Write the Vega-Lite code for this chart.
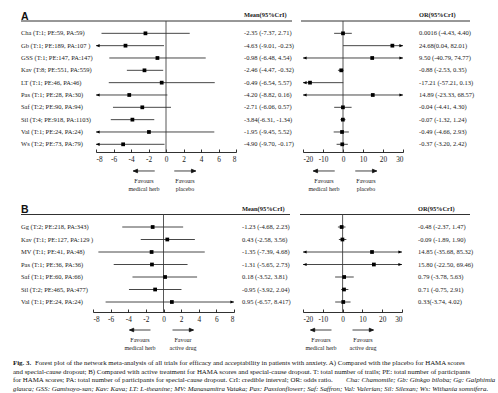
{
"$schema":"https://vega.github.io/schema/vega-lite/v6.json",
"background":"white",
"padding":{"left":0,"top":0,"right":0,"bottom":0},
"spacing":4,
"config":{"view":{"stroke":null},"text":{"font":"Liberation Serif","fontSize":6.5,"color":"#1a1a1a"},
"axis":{"labelFont":"Liberation Serif","labelFontSize":7.3,"labelColor":"#1a1a1a","domainColor":"#1a1a1a","tickColor":"#1a1a1a","domainWidth":0.9,"tickWidth":0.9,"grid":false,"labelExpr":"'' + datum.value"}},
"datasets":{
"hdrA":[{"col":"panel","t":"A"},{"col":"mean","t":"Mean(95%CrI)"},{"col":"or","t":"OR(95%CrI)"}],
"hdrB":[{"col":"panel","t":"B"},{"col":"mean","t":"Mean(95%CrI)"},{"col":"or","t":"OR(95%CrI)"}],
"annA":[{"p":"neg","t":"Favours|medical herb"},{"p":"pos","t":"Favours|placebo"}],
"annB1":[{"p":"neg","t":"Favours|medical herb"},{"p":"pos","t":"Favour|active drug"}],
"annB2":[{"p":"neg","t":"Favours|medical herb"},{"p":"pos","t":"Favours|active drug"}],
"rowsA":[
{"code":"Cha","label":"Cha (T:1; PE:59, PA:59)","mt":"-2.35 (-7.37, 2.71)","m":-2.35,"ml":-7.37,"mh":2.71,"ot":"0.0016 (-4.43, 4.40)","o":0.0016,"ol":-4.43,"oh":4.40},
{"code":"Gb","label":"Gb (T:1; PE:189, PA:107 )","mt":"-4.63 (-9.01, -0.23)","m":-4.63,"ml":-9.01,"mh":-0.23,"ot":"24.68(0.04, 82.01)","o":24.68,"ol":0.04,"oh":82.01},
{"code":"GSS","label":"GSS (T:1; PE:147, PA:147)","mt":"-0.98 (-6.48, 4.54)","m":-0.98,"ml":-6.48,"mh":4.54,"ot":"9.50 (-40.79, 74.77)","o":14.6,"ol":-40.79,"oh":74.77},
{"code":"Kav","label":"Kav (T:8; PE:551, PA:559)","mt":"-2.46 (-4.47, -0.32)","m":-2.46,"ml":-4.47,"mh":-0.32,"ot":"-0.88 (-2.53, 0.35)","o":-0.88,"ol":-2.53,"oh":0.35},
{"code":"LT","label":"LT (T:1; PE:46, PA:46)","mt":"-0.49 (-6.54, 5.57)","m":-0.49,"ml":-6.54,"mh":5.57,"ot":"-17.21 (-57.21, 0.13)","o":-16.5,"ol":-57.21,"oh":0.13},
{"code":"Pas","label":"Pas (T:1; PE:28, PA:30)","mt":"-4.20 (-8.82, 0.16)","m":-4.2,"ml":-8.82,"mh":0.16,"ot":"14.89 (-23.33, 68.57)","o":14.89,"ol":-23.33,"oh":68.57},
{"code":"Saf","label":"Saf (T:2; PE:90, PA:94)","mt":"-2.71 (-6.06, 0.57)","m":-2.71,"ml":-6.06,"mh":0.57,"ot":"-0.04 (-4.41, 4.30)","o":-0.04,"ol":-4.41,"oh":4.30},
{"code":"Sil","label":"Sil (T:4; PE:918, PA:1103)","mt":"-3.84(-6.31, -1.34)","m":-3.84,"ml":-6.31,"mh":-1.34,"ot":"-0.07 (-1.32, 1.24)","o":-0.07,"ol":-1.32,"oh":1.24},
{"code":"Val","label":"Val (T:1; PE:24, PA:24)","mt":"-1.95 (-9.45, 5.52)","m":-1.95,"ml":-9.45,"mh":5.52,"ot":"-0.49 (-4.66, 2.93)","o":-0.49,"ol":-4.66,"oh":2.93},
{"code":"Ws","label":"Ws (T:2; PE:73, PA:79)","mt":"-4.90 (-9.70, -0.17)","m":-4.9,"ml":-9.7,"mh":-0.17,"ot":"-0.37 (-3.20, 2.42)","o":-0.37,"ol":-3.2,"oh":2.42}],
"rowsB":[
{"code":"Gg","label":"Gg (T:2; PE:218, PA:343)","mt":"-1.23 (-4.68, 2.23)","m":-1.23,"ml":-4.68,"mh":2.23,"ot":"-0.48 (-2.37, 1.47)","o":-0.48,"ol":-2.37,"oh":1.47},
{"code":"Kav","label":"Kav (T:1; PE:127, PA:129 )","mt":"0.43 (-2.58, 3.56)","m":0.43,"ml":-2.58,"mh":3.56,"ot":"-0.09 (-1.89, 1.90)","o":-0.09,"ol":-1.89,"oh":1.9},
{"code":"MV","label":"MV (T:1; PE:41, PA:48)","mt":"-1.35 (-7.39, 4.68)","m":-1.35,"ml":-7.39,"mh":4.68,"ot":"14.85 (-35.68, 85.32)","o":14.85,"ol":-35.68,"oh":85.32},
{"code":"Pas","label":"Pas (T:1; PE:36, PA:36)","mt":"-1.31 (-5.65, 2.73)","m":-1.31,"ml":-5.65,"mh":2.73,"ot":"15.80 (-22.50, 69.46)","o":15.8,"ol":-22.5,"oh":69.46},
{"code":"Saf","label":"Saf (T:1; PE:60, PA:66)","mt":"0.18 (-3.52, 3.81)","m":0.18,"ml":-3.52,"mh":3.81,"ot":"0.79 (-3.78, 5.63)","o":0.79,"ol":-3.78,"oh":5.63},
{"code":"Sil","label":"Sil (T:2; PE:465, PA:477)","mt":"-0.95 (-3.92, 2.04)","m":-0.95,"ml":-3.92,"mh":2.04,"ot":"0.71 (-0.75, 2.91)","o":0.71,"ol":-0.75,"oh":2.91},
{"code":"Val","label":"Val (T:1; PE:24, PA:24)","mt":"0.95 (-6.57, 8.417)","m":0.95,"ml":-6.57,"mh":8.417,"ot":"0.33(-3.74, 4.02)","o":0.33,"ol":-3.74,"oh":4.02}],
"cap":[
{"g":"c1","s":"bold","ln":"1","t":"Fig. 3."},
{"g":"c2","s":"normal","ln":"1","t":"Forest plot of the network meta-analysis of all trials for efficacy and acceptability in patients with anxiety. A) Compared with the placebo for HAMA scores"},
{"g":"c1","s":"normal","ln":"2","t":"and special-cause dropout; B) Compared with active treatment for HAMA scores and special-cause dropout. T: total number of trails; PE: total number of participants"},
{"g":"c1","s":"normal","ln":"3","t":"for HAMA scores; PA: total number of participants for special-cause dropout. CrI: credible interval; OR: odds ratio."},
{"g":"c3","s":"italic","ln":"3","t":"Cha: Chamomile; Gb: Ginkgo biloba; Gg: Galphimia"},
{"g":"c1","s":"italic","ln":"4","t":"glauca; GSS: Gamisoyo-san; Kav: Kava; LT: L-theanine; MV: Manasamitra Vataka; Pas: Passionflower; Saf: Saffron; Val: Valerian; Sil: Silexan; Ws: Withania somnifera."}]
},
"vconcat":[
{
"width":498,"height":152,
"resolve":{"scale":{"x":"independent"},"axis":{"x":"independent"}},
"encoding":{"y":{"type":"nominal","scale":{"type":"point","domain":["hdr","Cha","Gb","GSS","Kav","LT","Pas","Saf","Sil","Val","Ws","gap","ann1","ann2"],"range":[21,181.3],"padding":0},"axis":null}},
"layer":[
{"data":{"name":"hdrA"},"transform":[{"filter":"datum.col == 'panel'"}],"mark":{"type":"rule","color":"#1a1a1a","strokeWidth":0.9},
"encoding":{"x":{"datum":0,"type":"quantitative","scale":{"domain":[0,1],"range":[21,292]},"axis":null},"x2":{"datum":1},"y":{"datum":"hdr"}}},
{"data":{"name":"hdrA"},"transform":[{"filter":"datum.col == 'panel'"}],"mark":{"type":"text","font":"Liberation Sans","fontWeight":"bold","fontSize":10.5,"align":"left","baseline":"alphabetic","dy":-1.5,"color":"#111"},
"encoding":{"x":{"datum":0,"type":"quantitative","scale":{"domain":[0,1],"range":[21,292]},"axis":null},"y":{"datum":"hdr"},"text":{"field":"t"}}},
{"data":{"name":"rowsA"},"mark":{"type":"text","align":"left","baseline":"middle"},
"encoding":{"x":{"datum":0,"type":"quantitative","scale":{"domain":[0,1],"range":[21,292]},"axis":null},"y":{"field":"code"},"text":{"field":"label"}}},
{"data":{"name":"hdrA"},"transform":[{"filter":"datum.col == 'mean'"}],"mark":{"type":"text","fontWeight":"bold","fontSize":6.4,"align":"left","baseline":"alphabetic","dy":-4},
"encoding":{"x":{"datum":0,"type":"quantitative","scale":{"domain":[0,1],"range":[244,292]},"axis":null},"y":{"datum":"hdr"},"text":{"field":"t"}}},
{"data":{"name":"rowsA"},"mark":{"type":"text","align":"left","baseline":"middle"},
"encoding":{"x":{"datum":0,"type":"quantitative","scale":{"domain":[0,1],"range":[244,292]},"axis":null},"y":{"field":"code"},"text":{"field":"mt"}}},
{"data":{"name":"hdrA"},"transform":[{"filter":"datum.col == 'panel'"}],"mark":{"type":"rule","color":"#1a1a1a","strokeWidth":0.9},
"encoding":{"x":{"datum":0,"type":"quantitative","scale":{"domain":[0,1],"range":[301,470]},"axis":null},"x2":{"datum":1},"y":{"datum":"hdr"}}},
{"data":{"name":"hdrA"},"transform":[{"filter":"datum.col == 'or'"}],"mark":{"type":"text","fontWeight":"bold","fontSize":6.4,"align":"left","baseline":"alphabetic","dy":-4},
"encoding":{"x":{"datum":0,"type":"quantitative","scale":{"domain":[0,1],"range":[419,470]},"axis":null},"y":{"datum":"hdr"},"text":{"field":"t"}}},
{"data":{"name":"rowsA"},"mark":{"type":"text","align":"left","baseline":"middle"},
"encoding":{"x":{"datum":0,"type":"quantitative","scale":{"domain":[0,1],"range":[419,470]},"axis":null},"y":{"field":"code"},"text":{"field":"ot"}}},

{"data":{"name":"hdrA"},"transform":[{"filter":"datum.col == 'panel'"}],"mark":{"type":"rule","color":"#444","strokeWidth":0.9},
"encoding":{"x":{"datum":0,"type":"quantitative","scale":{"domain":[-8,8],"range":[96,236],"clamp":true},"axis":null},"y":{"datum":"hdr"},"y2":{"value":"height"}}},
{"data":{"name":"rowsA"},"mark":{"type":"rule","color":"#333","strokeWidth":0.9},
"encoding":{"x":{"field":"ml","type":"quantitative","scale":{"domain":[-8,8],"range":[96,236],"clamp":true},"axis":{"orient":"bottom","values":[-8,-6,-4,-2,0,2,4,6,8],"title":null,"tickSize":-3,"labelPadding":6}},"x2":{"field":"mh"},"y":{"field":"code"}}},
{"data":{"name":"rowsA"},"mark":{"type":"point","shape":"square","filled":true,"size":14,"color":"#000","opacity":1},
"encoding":{"x":{"field":"m","type":"quantitative","scale":{"domain":[-8,8],"range":[96,236],"clamp":true},"axis":null},"y":{"field":"code"}}},
{"data":{"name":"rowsA"},"transform":[{"filter":"datum.ml < -8"}],"mark":{"type":"point","shape":"M0,0L1.8,-0.8L1.8,0.8Z","filled":true,"size":16,"color":"#000","opacity":1},
"encoding":{"x":{"field":"ml","type":"quantitative","scale":{"domain":[-8,8],"range":[96,236],"clamp":true},"axis":null},"y":{"field":"code"}}},
{"data":{"name":"rowsA"},"transform":[{"filter":"datum.mh > 8"}],"mark":{"type":"point","shape":"M0,0L-1.8,-0.8L-1.8,0.8Z","filled":true,"size":16,"color":"#000","opacity":1},
"encoding":{"x":{"field":"mh","type":"quantitative","scale":{"domain":[-8,8],"range":[96,236],"clamp":true},"axis":null},"y":{"field":"code"}}},

{"data":{"name":"hdrA"},"transform":[{"filter":"datum.col == 'panel'"}],"mark":{"type":"rule","color":"#444","strokeWidth":0.9},
"encoding":{"x":{"datum":0,"type":"quantitative","scale":{"domain":[-20,30],"range":[303,403],"clamp":true},"axis":null},"y":{"datum":"hdr"},"y2":{"value":"height"}}},
{"data":{"name":"rowsA"},"mark":{"type":"rule","color":"#333","strokeWidth":0.9},
"encoding":{"x":{"field":"ol","type":"quantitative","scale":{"domain":[-20,30],"range":[303,403],"clamp":true},"axis":{"orient":"bottom","values":[-20,-10,0,10,20,30],"title":null,"tickSize":-3,"labelPadding":6}},"x2":{"field":"oh"},"y":{"field":"code"}}},
{"data":{"name":"rowsA"},"mark":{"type":"point","shape":"square","filled":true,"size":14,"color":"#000","opacity":1},
"encoding":{"x":{"field":"o","type":"quantitative","scale":{"domain":[-20,30],"range":[303,403],"clamp":true},"axis":null},"y":{"field":"code"}}},
{"data":{"name":"rowsA"},"transform":[{"filter":"datum.ol < -20"}],"mark":{"type":"point","shape":"M0,0L1.8,-0.8L1.8,0.8Z","filled":true,"size":16,"color":"#000","opacity":1},
"encoding":{"x":{"field":"ol","type":"quantitative","scale":{"domain":[-20,30],"range":[303,403],"clamp":true},"axis":null},"y":{"field":"code"}}},
{"data":{"name":"rowsA"},"transform":[{"filter":"datum.oh > 30"}],"mark":{"type":"point","shape":"M0,0L-1.8,-0.8L-1.8,0.8Z","filled":true,"size":16,"color":"#000","opacity":1},
"encoding":{"x":{"field":"oh","type":"quantitative","scale":{"domain":[-20,30],"range":[303,403],"clamp":true},"axis":null},"y":{"field":"code"}}},

{"data":{"name":"annA"},"mark":{"type":"point","filled":true,"size":460,"color":"#111","stroke":"#111","strokeWidth":0.8,"opacity":1,"yOffset":2},
"encoding":{"x":{"field":"p","type":"nominal","scale":{"type":"point","domain":["neg","pos"],"range":[144,185],"padding":0},"axis":null},"y":{"datum":"ann1"},
"shape":{"field":"p","type":"nominal","scale":{"domain":["neg","pos"],"range":["M1,0L-1,0M-1,0L-0.6,-0.17L-0.6,0.17Z","M-1,0L1,0M1,0L0.6,-0.17L0.6,0.17Z"]},"legend":null}}},
{"data":{"name":"annA"},"mark":{"type":"text","fontSize":6,"align":"center","baseline":"middle","lineBreak":"|","lineHeight":8},
"encoding":{"x":{"field":"p","type":"nominal","scale":{"type":"point","domain":["neg","pos"],"range":[144,185],"padding":0},"axis":null},"y":{"datum":"ann2"},"text":{"field":"t"}}},
{"data":{"name":"annA"},"mark":{"type":"point","filled":true,"size":460,"color":"#111","stroke":"#111","strokeWidth":0.8,"opacity":1,"yOffset":2},
"encoding":{"x":{"field":"p","type":"nominal","scale":{"type":"point","domain":["neg","pos"],"range":[324,366],"padding":0},"axis":null},"y":{"datum":"ann1"},
"shape":{"field":"p","type":"nominal","scale":{"domain":["neg","pos"],"range":["M1,0L-1,0M-1,0L-0.6,-0.17L-0.6,0.17Z","M-1,0L1,0M1,0L0.6,-0.17L0.6,0.17Z"]},"legend":null}}},
{"data":{"name":"annA"},"mark":{"type":"text","fontSize":6,"align":"center","baseline":"middle","lineBreak":"|","lineHeight":8},
"encoding":{"x":{"field":"p","type":"nominal","scale":{"type":"point","domain":["neg","pos"],"range":[324,366],"padding":0},"axis":null},"y":{"datum":"ann2"},"text":{"field":"t"}}}
]
},
{
"width":498,"height":115,
"resolve":{"scale":{"x":"independent"},"axis":{"x":"independent"}},
"encoding":{"y":{"type":"nominal","scale":{"type":"point","domain":["hdr","Gg","Kav","MV","Pas","Saf","Sil","Val","gap","ann1","ann2"],"range":[17.5,142.5],"padding":0},"axis":null}},
"layer":[
{"data":{"name":"hdrB"},"transform":[{"filter":"datum.col == 'panel'"}],"mark":{"type":"rule","color":"#1a1a1a","strokeWidth":0.9},
"encoding":{"x":{"datum":0,"type":"quantitative","scale":{"domain":[0,1],"range":[21,290]},"axis":null},"x2":{"datum":1},"y":{"datum":"hdr"}}},
{"data":{"name":"hdrB"},"transform":[{"filter":"datum.col == 'panel'"}],"mark":{"type":"text","font":"Liberation Sans","fontWeight":"bold","fontSize":10.5,"align":"left","baseline":"alphabetic","dy":-1.5,"color":"#111"},
"encoding":{"x":{"datum":0,"type":"quantitative","scale":{"domain":[0,1],"range":[21,290]},"axis":null},"y":{"datum":"hdr"},"text":{"field":"t"}}},
{"data":{"name":"rowsB"},"mark":{"type":"text","align":"left","baseline":"middle"},
"encoding":{"x":{"datum":0,"type":"quantitative","scale":{"domain":[0,1],"range":[21,290]},"axis":null},"y":{"field":"code"},"text":{"field":"label"}}},
{"data":{"name":"hdrB"},"transform":[{"filter":"datum.col == 'mean'"}],"mark":{"type":"text","fontWeight":"bold","fontSize":6.4,"align":"left","baseline":"alphabetic","dy":-4},
"encoding":{"x":{"datum":0,"type":"quantitative","scale":{"domain":[0,1],"range":[242,290]},"axis":null},"y":{"datum":"hdr"},"text":{"field":"t"}}},
{"data":{"name":"rowsB"},"mark":{"type":"text","align":"left","baseline":"middle"},
"encoding":{"x":{"datum":0,"type":"quantitative","scale":{"domain":[0,1],"range":[242,290]},"axis":null},"y":{"field":"code"},"text":{"field":"mt"}}},
{"data":{"name":"hdrB"},"transform":[{"filter":"datum.col == 'panel'"}],"mark":{"type":"rule","color":"#1a1a1a","strokeWidth":0.9},
"encoding":{"x":{"datum":0,"type":"quantitative","scale":{"domain":[0,1],"range":[300,470]},"axis":null},"x2":{"datum":1},"y":{"datum":"hdr"}}},
{"data":{"name":"hdrB"},"transform":[{"filter":"datum.col == 'or'"}],"mark":{"type":"text","fontWeight":"bold","fontSize":6.4,"align":"left","baseline":"alphabetic","dy":-4},
"encoding":{"x":{"datum":0,"type":"quantitative","scale":{"domain":[0,1],"range":[418,470]},"axis":null},"y":{"datum":"hdr"},"text":{"field":"t"}}},
{"data":{"name":"rowsB"},"mark":{"type":"text","align":"left","baseline":"middle"},
"encoding":{"x":{"datum":0,"type":"quantitative","scale":{"domain":[0,1],"range":[418,470]},"axis":null},"y":{"field":"code"},"text":{"field":"ot"}}},

{"data":{"name":"hdrB"},"transform":[{"filter":"datum.col == 'panel'"}],"mark":{"type":"rule","color":"#444","strokeWidth":0.9},
"encoding":{"x":{"datum":0,"type":"quantitative","scale":{"domain":[-8,8],"range":[93,234],"clamp":true},"axis":null},"y":{"datum":"hdr"},"y2":{"value":"height"}}},
{"data":{"name":"rowsB"},"mark":{"type":"rule","color":"#333","strokeWidth":0.9},
"encoding":{"x":{"field":"ml","type":"quantitative","scale":{"domain":[-8,8],"range":[93,234],"clamp":true},"axis":{"orient":"bottom","values":[-8,-6,-4,-2,0,2,4,6,8],"title":null,"tickSize":-3,"labelPadding":6}},"x2":{"field":"mh"},"y":{"field":"code"}}},
{"data":{"name":"rowsB"},"mark":{"type":"point","shape":"square","filled":true,"size":14,"color":"#000","opacity":1},
"encoding":{"x":{"field":"m","type":"quantitative","scale":{"domain":[-8,8],"range":[93,234],"clamp":true},"axis":null},"y":{"field":"code"}}},
{"data":{"name":"rowsB"},"transform":[{"filter":"datum.ml < -8"}],"mark":{"type":"point","shape":"M0,0L1.8,-0.8L1.8,0.8Z","filled":true,"size":16,"color":"#000","opacity":1},
"encoding":{"x":{"field":"ml","type":"quantitative","scale":{"domain":[-8,8],"range":[93,234],"clamp":true},"axis":null},"y":{"field":"code"}}},
{"data":{"name":"rowsB"},"transform":[{"filter":"datum.mh > 8"}],"mark":{"type":"point","shape":"M0,0L-1.8,-0.8L-1.8,0.8Z","filled":true,"size":16,"color":"#000","opacity":1},
"encoding":{"x":{"field":"mh","type":"quantitative","scale":{"domain":[-8,8],"range":[93,234],"clamp":true},"axis":null},"y":{"field":"code"}}},

{"data":{"name":"hdrB"},"transform":[{"filter":"datum.col == 'panel'"}],"mark":{"type":"rule","color":"#444","strokeWidth":0.9},
"encoding":{"x":{"datum":0,"type":"quantitative","scale":{"domain":[-20,30],"range":[303,402],"clamp":true},"axis":null},"y":{"datum":"hdr"},"y2":{"value":"height"}}},
{"data":{"name":"rowsB"},"mark":{"type":"rule","color":"#333","strokeWidth":0.9},
"encoding":{"x":{"field":"ol","type":"quantitative","scale":{"domain":[-20,30],"range":[303,402],"clamp":true},"axis":{"orient":"bottom","values":[-20,-10,0,10,20,30],"title":null,"tickSize":-3,"labelPadding":6}},"x2":{"field":"oh"},"y":{"field":"code"}}},
{"data":{"name":"rowsB"},"mark":{"type":"point","shape":"square","filled":true,"size":14,"color":"#000","opacity":1},
"encoding":{"x":{"field":"o","type":"quantitative","scale":{"domain":[-20,30],"range":[303,402],"clamp":true},"axis":null},"y":{"field":"code"}}},
{"data":{"name":"rowsB"},"transform":[{"filter":"datum.ol < -20"}],"mark":{"type":"point","shape":"M0,0L1.8,-0.8L1.8,0.8Z","filled":true,"size":16,"color":"#000","opacity":1},
"encoding":{"x":{"field":"ol","type":"quantitative","scale":{"domain":[-20,30],"range":[303,402],"clamp":true},"axis":null},"y":{"field":"code"}}},
{"data":{"name":"rowsB"},"transform":[{"filter":"datum.oh > 30"}],"mark":{"type":"point","shape":"M0,0L-1.8,-0.8L-1.8,0.8Z","filled":true,"size":16,"color":"#000","opacity":1},
"encoding":{"x":{"field":"oh","type":"quantitative","scale":{"domain":[-20,30],"range":[303,402],"clamp":true},"axis":null},"y":{"field":"code"}}},

{"data":{"name":"annB1"},"mark":{"type":"point","filled":true,"size":440,"color":"#111","stroke":"#111","strokeWidth":0.8,"opacity":1,"yOffset":3},
"encoding":{"x":{"field":"p","type":"nominal","scale":{"type":"point","domain":["neg","pos"],"range":[140,183],"padding":0},"axis":null},"y":{"datum":"ann1"},
"shape":{"field":"p","type":"nominal","scale":{"domain":["neg","pos"],"range":["M1,0L-1,0M-1,0L-0.6,-0.17L-0.6,0.17Z","M-1,0L1,0M1,0L0.6,-0.17L0.6,0.17Z"]},"legend":null}}},
{"data":{"name":"annB1"},"mark":{"type":"text","fontSize":6,"align":"center","baseline":"middle","lineBreak":"|","lineHeight":8},
"encoding":{"x":{"field":"p","type":"nominal","scale":{"type":"point","domain":["neg","pos"],"range":[140,183],"padding":0},"axis":null},"y":{"datum":"ann2"},"text":{"field":"t"}}},
{"data":{"name":"annB2"},"mark":{"type":"point","filled":true,"size":440,"color":"#111","stroke":"#111","strokeWidth":0.8,"opacity":1,"yOffset":3},
"encoding":{"x":{"field":"p","type":"nominal","scale":{"type":"point","domain":["neg","pos"],"range":[321,363],"padding":0},"axis":null},"y":{"datum":"ann1"},
"shape":{"field":"p","type":"nominal","scale":{"domain":["neg","pos"],"range":["M1,0L-1,0M-1,0L-0.6,-0.17L-0.6,0.17Z","M-1,0L1,0M1,0L0.6,-0.17L0.6,0.17Z"]},"legend":null}}},
{"data":{"name":"annB2"},"mark":{"type":"text","fontSize":6,"align":"center","baseline":"middle","lineBreak":"|","lineHeight":8},
"encoding":{"x":{"field":"p","type":"nominal","scale":{"type":"point","domain":["neg","pos"],"range":[321,363],"padding":0},"axis":null},"y":{"datum":"ann2"},"text":{"field":"t"}}}
]
},
{
"width":498,"height":40,
"resolve":{"scale":{"x":"independent"},"axis":{"x":"independent"}},
"data":{"name":"cap"},
"encoding":{"y":{"field":"ln","type":"nominal","scale":{"type":"point","domain":["1","2","3","4"],"range":[7.7,34.3],"padding":0},"axis":null},"text":{"field":"t"}},
"layer":[
{"transform":[{"filter":"datum.g == 'c1' && datum.s == 'bold'"}],"mark":{"type":"text","align":"left","baseline":"middle","fontWeight":"bold","fontSize":6.9,"color":"#111"},
"encoding":{"x":{"datum":0,"type":"quantitative","scale":{"domain":[0,1],"range":[13,479]},"axis":null}}},
{"transform":[{"filter":"datum.g == 'c1' && datum.s == 'normal'"}],"mark":{"type":"text","align":"left","baseline":"middle","fontSize":6.9,"color":"#111"},
"encoding":{"x":{"datum":0,"type":"quantitative","scale":{"domain":[0,1],"range":[13,479]},"axis":null}}},
{"transform":[{"filter":"datum.g == 'c1' && datum.s == 'italic'"}],"mark":{"type":"text","align":"left","baseline":"middle","fontStyle":"italic","fontSize":6.9,"color":"#111"},
"encoding":{"x":{"datum":0,"type":"quantitative","scale":{"domain":[0,1],"range":[13,479]},"axis":null}}},
{"transform":[{"filter":"datum.g == 'c2'"}],"mark":{"type":"text","align":"left","baseline":"middle","fontSize":6.9,"color":"#111"},
"encoding":{"x":{"datum":0,"type":"quantitative","scale":{"domain":[0,1],"range":[35,479]},"axis":null}}},
{"transform":[{"filter":"datum.g == 'c3'"}],"mark":{"type":"text","align":"left","baseline":"middle","fontStyle":"italic","fontSize":6.9,"color":"#111"},
"encoding":{"x":{"datum":0,"type":"quantitative","scale":{"domain":[0,1],"range":[346,479]},"axis":null}}}
]
}
]
}
